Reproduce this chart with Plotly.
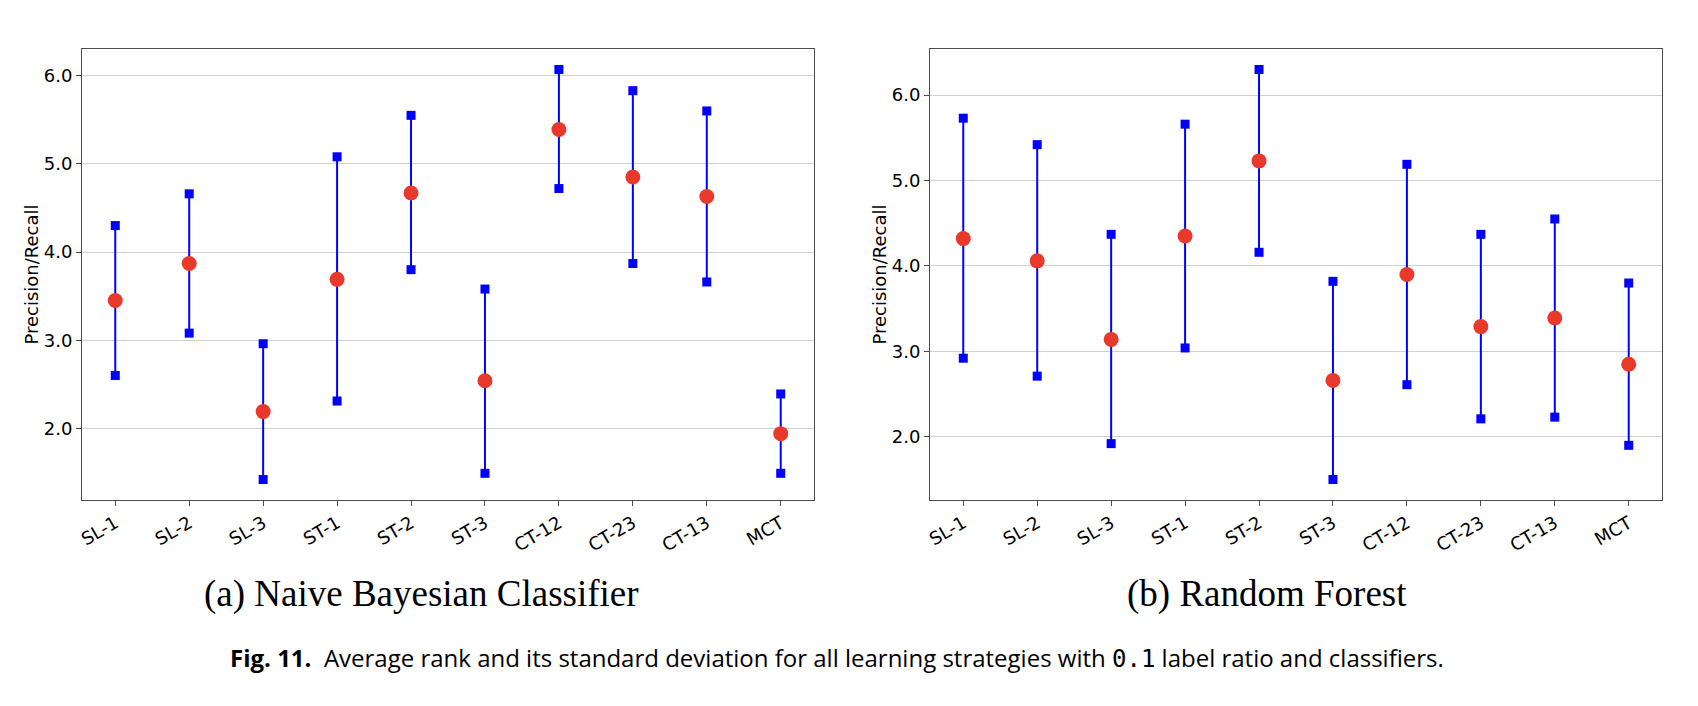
"""Average rank and standard deviation per learning strategy (two classifiers)"""
import plotly.graph_objects as go

# Learning strategies on the x axis
strategies = ["SL-1", "SL-2", "SL-3", "ST-1", "ST-2", "ST-3", "CT-12", "CT-23", "CT-13", "MCT"]

# (a) Naive Bayesian Classifier
nb_mean = [3.45, 3.87, 2.19, 3.69, 4.67, 2.54, 5.39, 4.85, 4.63, 1.94]
nb_upper = [4.30, 4.66, 2.96, 5.08, 5.55, 3.58, 6.07, 5.83, 5.60, 2.39]
nb_lower = [2.60, 3.08, 1.42, 2.31, 3.80, 1.49, 4.72, 3.87, 3.66, 1.49]

# (b) Random Forest
rf_mean = [4.32, 4.06, 3.14, 4.35, 5.23, 2.66, 3.90, 3.29, 3.39, 2.85]
rf_upper = [5.73, 5.42, 4.37, 5.66, 6.30, 3.82, 5.19, 4.37, 4.55, 3.80]
rf_lower = [2.92, 2.71, 1.92, 3.04, 4.16, 1.50, 2.61, 2.21, 2.23, 1.90]

y_ticks = [2.0, 3.0, 4.0, 5.0, 6.0]

BLUE = "#0000ff"
RED = "#e8392b"
FRAME = "#4d4d4d"


def add_panel(fig, mean, upper, lower, xaxis, yaxis):
    # vertical std lines, one segment per strategy
    seg_x, seg_y = [], []
    for s, lo, hi in zip(strategies, lower, upper):
        seg_x += [s, s, None]
        seg_y += [lo, hi, None]
    fig.add_trace(go.Scatter(
        x=seg_x, y=seg_y, mode="lines",
        line=dict(color=BLUE, width=2),
        xaxis=xaxis, yaxis=yaxis, showlegend=False, hoverinfo="skip"
    ))
    # square end markers
    fig.add_trace(go.Scatter(
        x=strategies + strategies, y=upper + lower, mode="markers",
        marker=dict(symbol="square", color=BLUE, size=9, line=dict(width=0)),
        xaxis=xaxis, yaxis=yaxis, showlegend=False
    ))
    # average rank
    fig.add_trace(go.Scatter(
        x=strategies, y=mean, mode="markers",
        marker=dict(symbol="circle", color=RED, size=15, line=dict(width=0)),
        xaxis=xaxis, yaxis=yaxis, showlegend=False
    ))


def auto_range(upper, lower):
    lo, hi = min(lower), max(upper)
    pad = (hi - lo) * 0.05
    return [lo - pad, hi + pad]


fig = go.Figure()
add_panel(fig, nb_mean, nb_upper, nb_lower, "x", "y")
add_panel(fig, rf_mean, rf_upper, rf_lower, "x2", "y2")

# page body has an 8px margin, so the figure is a bit smaller than the window
W, H = 1690, 698
# axes positions in pixels (left, right, top, bottom)
left_box = (74, 806, 41, 492)
right_box = (922, 1654, 41, 492)


def dom_x(box):
    return [box[0] / W, box[1] / W]


def dom_y(box):
    return [1 - box[3] / H, 1 - box[2] / H]


xaxis_common = dict(
    type="category", categoryorder="array", categoryarray=strategies,
    range=[-0.45, len(strategies) - 0.55],
    tickangle=-30, ticks="outside", ticklen=5, tickcolor=FRAME,
    tickfont=dict(family="DejaVu Sans", size=18, color="#000000"),
    showline=True, linecolor=FRAME, linewidth=1, mirror=True,
    showgrid=False, zeroline=False, automargin=False,
)
yaxis_common = dict(
    tickvals=y_ticks, tickformat=".1f",
    ticks="outside", ticklen=5, tickcolor=FRAME,
    tickfont=dict(family="DejaVu Sans", size=18, color="#000000"),
    showline=True, linecolor=FRAME, linewidth=1, mirror=True,
    showgrid=True, gridcolor="#d0d0d0", gridwidth=1, zeroline=False, automargin=False,
    title=dict(text="Precision/Recall", font=dict(family="DejaVu Sans", size=18, color="#000000"),
               standoff=0),
)

fig.update_layout(
    width=W, height=H,
    margin=dict(l=0, r=0, t=0, b=0),
    paper_bgcolor="white", plot_bgcolor="white",
    xaxis=dict(domain=dom_x(left_box), anchor="y", **xaxis_common),
    yaxis=dict(domain=dom_y(left_box), anchor="x", range=auto_range(nb_upper, nb_lower), **yaxis_common),
    xaxis2=dict(domain=dom_x(right_box), anchor="y2", **xaxis_common),
    yaxis2=dict(domain=dom_y(right_box), anchor="x2", range=auto_range(rf_upper, rf_lower), **yaxis_common),
)

# sub-figure captions
for text, cx in [("(a) Naive Bayesian Classifier", 413), ("(b) Random Forest", 1259)]:
    fig.add_annotation(text=text, x=cx / W, y=1 - 586 / H,
                       xref="paper", yref="paper", xanchor="center", yanchor="middle",
                       showarrow=False,
                       font=dict(family="Liberation Serif", size=37, color="#000000"))

# figure caption
fig.add_annotation(
    text="<b>Fig. 11.</b>  Average rank and its standard deviation for all learning strategies with "
         "<span style='font-family:DejaVu Sans Mono'>0.1</span> label ratio and classifiers.",
    x=829 / W, y=1 - 649 / H, xref="paper", yref="paper", xanchor="center", yanchor="middle",
    showarrow=False,
    font=dict(family="Open Sans", size=24, color="#000000"))

fig.write_html("out.html")
